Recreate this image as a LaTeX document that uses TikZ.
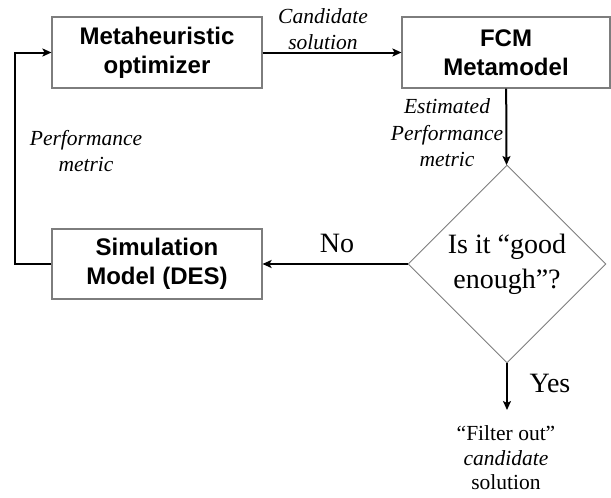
\documentclass[tikz,border=0pt]{standalone}
\usepackage{fontspec}
\setmainfont{Liberation Serif}
\newfontfamily\boxfont{Liberation Sans}
\usetikzlibrary{shapes.geometric,arrows.meta}
\definecolor{boxgray}{RGB}{125,125,125}
\tikzset{
  procbox/.style={draw=boxgray, line width=1.1pt, minimum width=210pt, minimum height=71pt, inner sep=0pt,
    align=center, font=\boxfont\bfseries\fontsize{24}{29}\selectfont},
  decbox/.style={diamond, draw=boxgray, line width=0.9pt, minimum width=198pt, minimum height=198pt, inner sep=0pt,
    align=center, font=\fontsize{28}{35}\selectfont},
  conn/.style={line width=2pt, -{Stealth[length=9pt,width=8pt,inset=2pt]}},
  lbl/.style={align=center, inner sep=0pt, font=\itshape\fontsize{21.5}{26.5}\selectfont},
  big/.style={inner sep=0pt, font=\fontsize{28}{34}\selectfont},
}
\begin{document}
\begin{tikzpicture}[x=1pt,y=-1pt]
\useasboundingbox (0,0) rectangle (611,498);
\node[procbox] (opt) at (157,52.5) {Metaheuristic\\optimizer};
\node[procbox, minimum width=208pt] (fcm) at (506,52.5) {FCM\\Metamodel};
\node[procbox, minimum height=70pt] (sim) at (157,264) {Simulation\\Model (DES)};
\node[decbox] (dec) at (507,264) {Is it “good\\enough”?};
\coordinate (yesend) at (507,410);
\node[align=center, inner sep=0pt, font=\fontsize{21.5}{24.5}\selectfont] (filt) at (506,458) {“Filter out”\\\textit{candidate}\\solution};
\draw[conn] (opt) -- (fcm);
\draw[conn] (fcm) -- (dec);
\draw[conn] (dec) -- (sim);
\draw[conn] (sim.west) -- ++(-36,0) |- (opt.west);
\draw[conn] (dec.south) -- (yesend);
\node[lbl] (cand) at (323,29) {Candidate\\solution};
\node[lbl] (est) at (447,133) {Estimated\\Performance\\metric};
\node[lbl] (perf) at (86,151) {Performance\\metric};
\node[big] (no) at (337,243) {No};
\node[big] (yes) at (550,383) {Yes};
\end{tikzpicture}
\end{document}
